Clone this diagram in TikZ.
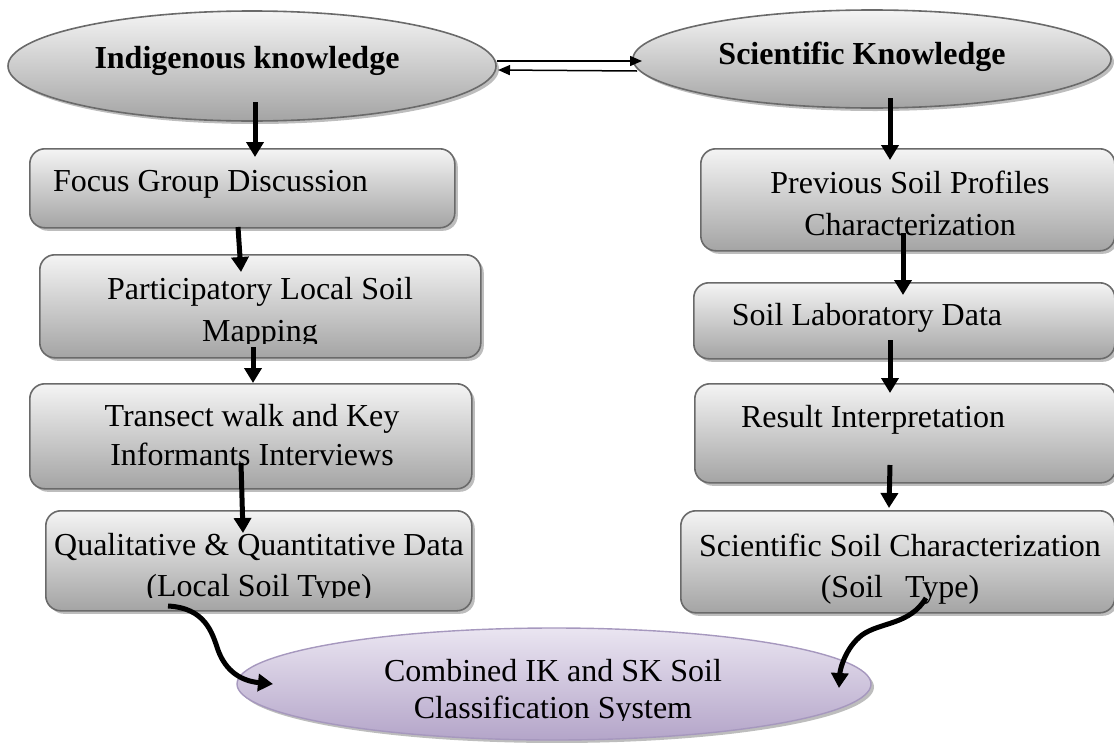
\documentclass[tikz,border=0pt]{standalone}
\usepackage{fontspec}
\setmainfont{Liberation Serif}
\usetikzlibrary{shapes.geometric,shadows,arrows.meta}
\definecolor{bordergray}{HTML}{6A6A6A}
\definecolor{boxtop}{HTML}{F4F4F4}
\definecolor{boxbot}{HTML}{A4A4A4}
\definecolor{shadowgray}{HTML}{BDBDBD}
\definecolor{purtop}{HTML}{EAE5F1}
\definecolor{purbot}{HTML}{B4A5C9}
\definecolor{purborder}{HTML}{A698BE}
\begin{document}
\begin{tikzpicture}[x=1pt,y=-1pt,
  graybox/.style={draw=bordergray, line width=1.6pt, rounded corners=15pt,
    top color=boxtop, bottom color=boxbot,
    drop shadow={shadow xshift=3pt, shadow yshift=-3pt, fill=shadowgray, opacity=1},
    inner sep=0pt, anchor=north west},
  grayell/.style={ellipse, draw=bordergray, line width=1.6pt,
    top color=boxtop, bottom color=boxbot,
    drop shadow={shadow xshift=3pt, shadow yshift=-3pt, fill=shadowgray, opacity=1},
    inner sep=0pt},
  purell/.style={ellipse, draw=purborder, line width=1.4pt,
    top color=purtop, bottom color=purbot,
    drop shadow={shadow xshift=3pt, shadow yshift=-3pt, fill=shadowgray, opacity=1},
    inner sep=0pt},
  txt/.style={anchor=base, inner sep=0pt, font=\fontsize{32}{38}\selectfont},
  btxt/.style={txt, font=\fontsize{32}{38}\selectfont\bfseries},
  bigarrow/.style={line width=5pt, -{Triangle[width=17pt,length=15pt]}},
  thinarrow/.style={line width=1.5pt, -{Triangle[width=10pt,length=12pt]}}
]
\useasboundingbox (0,0) rectangle (1114,742);
\clip (0,0) rectangle (1114,742);

% top ellipses
\node[grayell, minimum width=488pt, minimum height=110pt] (ik) at (252,66) {};
\node[btxt] (ikt) at (247,68) {Indigenous knowledge};
\node[grayell, minimum width=478pt, minimum height=98pt] (sk) at (872,59) {};
\node[btxt] (skt) at (862,64) {Scientific Knowledge};

% left boxes
\node[graybox, minimum width=425pt, minimum height=79pt] (l1) at (29,148) {};
\node[txt, anchor=base west] (l1t) at (53,191) {Focus Group Discussion};

\node[graybox, minimum width=441pt, minimum height=103pt] (l2) at (39,254) {};
\begin{scope}
\clip (39,254) rectangle (480,343);
\node[txt] (l2a) at (260,299) {Participatory Local Soil};
\node[txt] (l2b) at (260,341) {Mapping};
\end{scope}

\node[graybox, minimum width=442pt, minimum height=105pt] (l3) at (29,383) {};
\begin{scope}
\clip (29,383) rectangle (471,468);
\node[txt] (l3a) at (252,426) {Transect walk and Key};
\node[txt] (l3b) at (252,465) {Informants Interviews};
\end{scope}

\node[graybox, minimum width=426pt, minimum height=100pt] (l4) at (45,510) {};
\begin{scope}
\clip (45,510) rectangle (471,597);
\node[txt] (l4a) at (259,555) {Qualitative \& Quantitative Data};
\node[txt] (l4b) at (259,596) {(Local Soil Type)};
\end{scope}

% right boxes
\node[graybox, minimum width=414pt, minimum height=102pt] (r1) at (700,148) {};
\node[txt] (r1a) at (910,193) {Previous Soil Profiles};
\node[txt] (r1b) at (910,235) {Characterization};

\node[graybox, minimum width=421pt, minimum height=76pt] (r2) at (693,282) {};
\node[txt] (r2t) at (867,325) {Soil Laboratory Data};

\node[graybox, minimum width=421pt, minimum height=99pt] (r3) at (694,383) {};
\node[txt] (r3t) at (873,427) {Result Interpretation};

\node[graybox, minimum width=434pt, minimum height=102pt] (r4) at (680,510) {};
\node[txt] (r4a) at (900,556) {Scientific Soil Characterization};
\node[txt] (r4b) at (900,597) {(Soil\hspace{22pt}Type)};

% bottom ellipse
\node[purell, minimum width=634pt, minimum height=112pt] (ce) at (554,684) {};
\begin{scope}
\clip (200,620) rectangle (900,720);
\node[txt] (cea) at (553,681) {Combined IK and SK Soil};
\node[txt] (ceb) at (553,718) {Classification System};
\end{scope}

% arrow end points
\coordinate (c1s) at (497,61);  \coordinate (c1e) at (642,61);
\coordinate (c2s) at (637,71);  \coordinate (c2e) at (498,70);
\coordinate (a1s) at (255,102); \coordinate (a1e) at (255,157);
\coordinate (a2s) at (238,227); \coordinate (a2e) at (241,272);
\coordinate (a3s) at (253,347); \coordinate (a3e) at (253,383);
\coordinate (a4s) at (241,463); \coordinate (a4e) at (243,533);
\coordinate (a5s) at (168,606); \coordinate (a5m) at (218,650); \coordinate (a5e) at (273,684);
\coordinate (b1s) at (890,98);  \coordinate (b1e) at (890,160);
\coordinate (b2s) at (903,233); \coordinate (b2e) at (903,295);
\coordinate (b3s) at (890,340); \coordinate (b3e) at (890,393);
\coordinate (b4s) at (890,465); \coordinate (b4e) at (889,508);
\coordinate (b5s) at (926,598); \coordinate (b5m) at (862,635); \coordinate (b5e) at (839,688);

% connectors
\draw[thinarrow] (c1s) -- (c1e);
\draw[thinarrow] (c2s) -- (c2e);
\draw[bigarrow] (a1s) -- (a1e);
\draw[bigarrow] (a2s) -- (a2e);
\draw[bigarrow] (a3s) -- (a3e);
\draw[bigarrow] (a4s) -- (a4e);
\draw[bigarrow] (a5s) .. controls (205,608) and (212,632) .. (a5m) .. controls (226,672) and (242,681) .. (a5e);
\draw[bigarrow] (b1s) -- (b1e);
\draw[bigarrow] (b2s) -- (b2e);
\draw[bigarrow] (b3s) -- (b3e);
\draw[bigarrow] (b4s) -- (b4e);
\draw[bigarrow] (b5s) .. controls (910,625) and (880,622) .. (b5m) .. controls (845,648) and (840,670) .. (b5e);
\end{tikzpicture}
\end{document}
